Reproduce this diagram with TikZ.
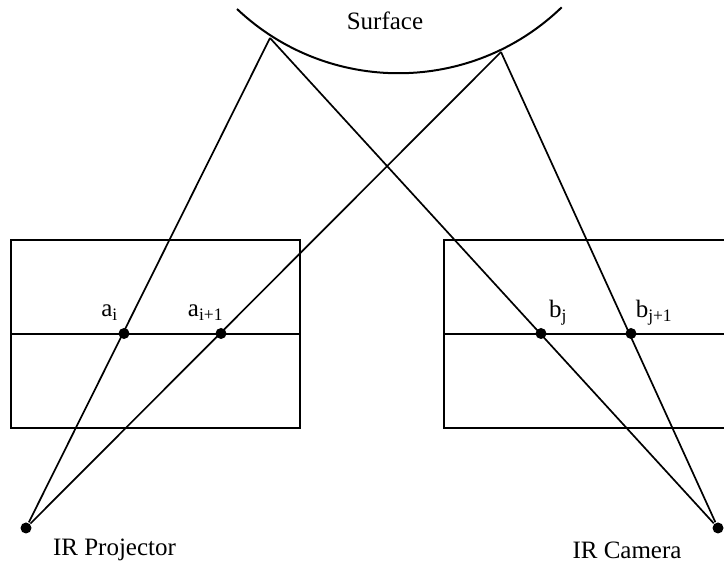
\documentclass[tikz,border=0pt]{standalone}
\usepackage{fontspec}
\setmainfont{Liberation Serif}

\begin{document}
\begin{tikzpicture}[x=1pt,y=1pt, line width=1.7pt]
                \tikzstyle{plane} = [draw, rectangle, minimum width=289pt, minimum height=188pt, inner sep=0pt]
                \tikzstyle{point} = [fill=black, circle, minimum size=11pt, inner sep=0pt]
                \tikzstyle{label} = [font=\fontsize{25}{28}\selectfont, inner sep=0pt]

                \useasboundingbox (0,0) rectangle (724,564);

                % Surface
                \draw[line width=2pt] (237,555) arc[start angle=226.6, end angle=314, radius=235pt];
                \node[label] (surface) at (385,543) {Surface};
                \coordinate (hitleft) at (270,526);
                \coordinate (hitright) at (501,512);

                % Image planes
                \node[plane] (planeleft) at (155.5,230.3) {};
                \node[plane] (planeright) at (588.5,230.3) {};
                \draw (planeleft.west) -- (planeleft.east);
                \draw (planeright.west) -- (planeright.east);

                % Points on the planes
                \node[point] (ai) at (124,230.5) {};
                \node[point] (aii) at (221,230.5) {};
                \node[point] (bj) at (541,230.5) {};
                \node[point] (bjj) at (631,230.5) {};

                % Projector and camera
                \node[point] (projector) at (26,36) {};
                \node[point] (camera) at (718,36) {};

                % Rays
                \draw (projector) -- (hitleft);
                \draw (projector) -- (hitright);
                \draw (camera) -- (hitleft);
                \draw (camera) -- (hitright);

                % Labels
                \node[label] (labelai) at (109.5,251) {a\textsubscript{i}};
                \node[label] (labelaii) at (205.5,251) {a\textsubscript{i+1}};
                \node[label] (labelbj) at (558,251) {b\textsubscript{j}};
                \node[label] (labelbjj) at (654,251) {b\textsubscript{j+1}};
                \node[label] (labelprojector) at (114.5,14) {IR Projector};
                \node[label] (labelcamera) at (627,14) {IR Camera};
            \end{tikzpicture}
\end{document}
